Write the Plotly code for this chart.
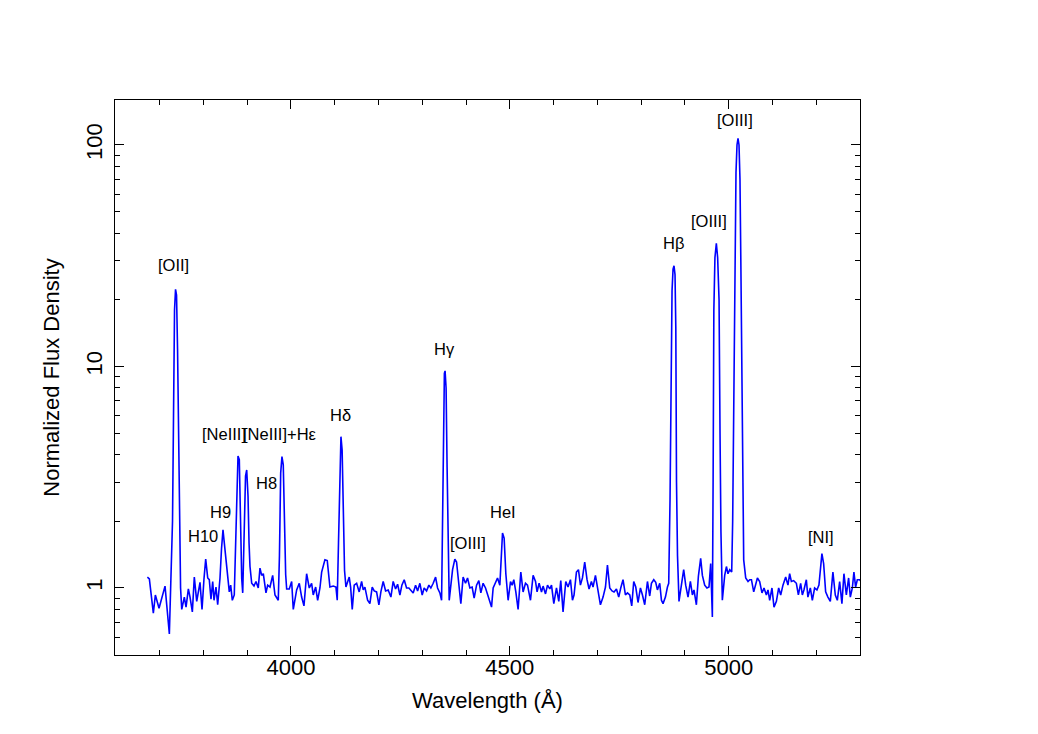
import plotly.graph_objects as go

# Spectrum (wavelength in Angstrom, normalized flux)
wavelength = [
    3672.0, 3676.5, 3685.6, 3690.2, 3698.6, 3712.3, 3722.2, 3726.0, 3729.4, 3731.7,
    3734.0, 3736.3, 3738.6, 3740.9, 3743.2, 3745.0, 3747.8, 3750.5, 3756.4, 3760.3,
    3765.6, 3769.4, 3774.7, 3779.2, 3784.7, 3792.2, 3796.8, 3801.3, 3805.2, 3809.8,
    3813.4, 3817.3, 3821.2, 3824.2, 3828.7, 3832.6, 3837.9, 3841.3, 3844.7, 3847.0,
    3850.0, 3854.5, 3859.1, 3862.3, 3866.0, 3870.5, 3873.3, 3876.0, 3879.0, 3882.0,
    3884.7, 3887.5, 3889.8, 3892.7, 3896.2, 3898.9, 3901.9, 3904.2, 3906.4, 3910.3,
    3915.5, 3920.1, 3925.3, 3929.2, 3933.1, 3936.8, 3942.9, 3946.8, 3952.1, 3958.2,
    3963.5, 3971.0, 3973.7, 3976.5, 3979.4, 3982.4, 3985.1, 3987.9, 3990.2, 3996.1,
    4001.6, 4005.3, 4013.0, 4019.0, 4024.4, 4029.7, 4035.8, 4041.8, 4047.2, 4050.9,
    4056.4, 4061.0, 4066.2, 4070.1, 4077.6, 4082.9, 4089.0, 4096.6, 4102.7, 4105.7,
    4108.6, 4111.4, 4114.2, 4116.9, 4119.6, 4122.4, 4125.6, 4129.5, 4133.1, 4136.3,
    4140.0, 4144.5, 4150.0, 4155.9, 4161.4, 4165.1, 4168.9, 4175.1, 4180.3, 4185.6,
    4190.2, 4195.6, 4200.9, 4205.4, 4210.7, 4216.2, 4222.1, 4228.3, 4233.5, 4239.0,
    4243.6, 4248.9, 4253.4, 4258.7, 4264.1, 4269.4, 4273.9, 4279.2, 4284.7, 4289.3,
    4294.5, 4299.8, 4304.3, 4309.8, 4315.1, 4319.6, 4324.9, 4330.4, 4334.9, 4340.2,
    4344.1, 4346.1, 4348.2, 4350.5, 4352.1, 4354.4, 4356.7, 4359.2, 4361.5, 4369.2,
    4374.4, 4378.3, 4383.5, 4388.1, 4393.3, 4398.8, 4403.4, 4408.7, 4413.9, 4418.5,
    4424.0, 4429.2, 4433.8, 4439.0, 4444.5, 4450.5, 4458.2, 4461.9, 4467.3, 4471.9,
    4477.2, 4480.6, 4483.3, 4487.0, 4490.9, 4496.1, 4501.6, 4505.3, 4509.1, 4513.7,
    4518.9, 4525.1, 4530.3, 4535.8, 4540.4, 4547.2, 4553.2, 4558.7, 4562.3, 4566.9,
    4572.4, 4576.0, 4581.5, 4586.1, 4591.3, 4595.2, 4600.5, 4606.6, 4611.9, 4616.4,
    4621.6, 4627.8, 4633.0, 4638.5, 4643.1, 4646.7, 4652.2, 4656.8, 4661.3, 4665.9,
    4671.1, 4676.4, 4681.0, 4686.4, 4690.1, 4695.6, 4700.2, 4707.0, 4713.0, 4718.5,
    4723.0, 4728.3, 4733.5, 4738.1, 4743.6, 4748.8, 4753.4, 4758.6, 4764.1, 4768.7,
    4774.0, 4778.5, 4783.1, 4787.7, 4792.9, 4798.4, 4803.0, 4808.2, 4814.4, 4819.6,
    4823.5, 4828.8, 4833.3, 4837.2, 4842.5, 4846.4, 4850.0, 4855.5, 4860.1, 4863.0,
    4866.0, 4868.3, 4870.6, 4872.9, 4875.1, 4877.4, 4879.2, 4880.8, 4883.1, 4886.5,
    4892.0, 4897.2, 4901.8, 4907.1, 4912.5, 4917.1, 4920.7, 4926.2, 4930.8, 4936.0,
    4939.9, 4945.2, 4950.4, 4955.0, 4958.9, 4962.7, 4964.4, 4966.1, 4968.6, 4971.8,
    4974.8, 4978.0, 4980.2, 4982.3, 4985.5, 4990.9, 4994.8, 4998.4, 5002.3, 5006.9,
    5009.1, 5011.4, 5014.2, 5016.7, 5019.0, 5021.3, 5023.6, 5025.8, 5027.9, 5030.0,
    5032.0, 5034.3, 5038.9, 5044.2, 5048.1, 5052.0, 5057.2, 5061.8, 5065.6, 5070.8,
    5076.1, 5080.7, 5086.1, 5089.8, 5093.7, 5098.9, 5103.5, 5109.0, 5114.2, 5118.8,
    5124.0, 5130.2, 5135.4, 5139.3, 5143.2, 5148.4, 5154.6, 5159.2, 5164.4, 5168.3,
    5171.9, 5177.4, 5181.0, 5186.5, 5191.1, 5196.3, 5201.6, 5206.2, 5209.6, 5213.0,
    5216.9, 5221.5, 5226.7, 5232.2, 5238.1, 5243.6, 5248.2, 5253.5, 5258.7, 5263.3,
    5268.8, 5274.0, 5277.9, 5282.5, 5286.1, 5290.0, 5293.9, 5299.1, 5305.0,
]

flux = [
    1.12, 1.10, 0.77, 0.93, 0.81, 1.02, 0.62, 1.10, 2.0, 6.0,
    18.0, 22.3, 21.0, 12.0, 4.0, 2.0, 1.0, 0.80, 0.91, 0.82,
    0.99, 0.91, 0.78, 1.12, 0.87, 1.06, 0.80, 1.10, 1.35, 1.11,
    1.09, 0.89, 1.07, 0.88, 1.01, 0.84, 1.11, 1.50, 1.83, 1.65,
    1.43, 1.12, 0.96, 1.03, 0.88, 0.93, 1.50, 3.0, 3.94, 3.8,
    2.0, 1.1, 0.95, 1.6, 3.2, 3.41, 2.6, 1.6, 1.25, 1.05,
    1.02, 1.07, 1.00, 1.23, 1.14, 1.16, 0.95, 1.03, 1.01, 1.14,
    0.93, 0.88, 1.4, 3.3, 3.92, 3.6, 2.0, 1.15, 0.99, 0.99,
    1.07, 0.80, 0.98, 1.05, 0.91, 0.83, 1.16, 1.00, 1.05, 0.93,
    1.01, 0.88, 1.00, 1.18, 1.34, 1.33, 1.01, 1.02, 1.01, 0.88,
    1.6, 3.5, 4.82, 4.2, 2.2, 1.2, 1.01, 1.07, 1.12, 1.01,
    0.80, 1.03, 1.05, 0.96, 1.07, 0.98, 1.01, 0.88, 0.85, 1.01,
    0.97, 0.96, 0.84, 0.96, 1.07, 0.97, 0.98, 0.91, 1.07, 0.99,
    1.04, 0.93, 1.03, 1.09, 1.00, 1.00, 0.98, 0.95, 1.03, 0.97,
    1.05, 0.93, 1.00, 0.97, 1.03, 1.00, 1.05, 1.12, 1.00, 0.95,
    0.88, 2.0, 6.5, 9.3, 9.55, 8.0, 3.5, 1.5, 0.88, 1.21,
    1.35, 1.31, 1.01, 0.85, 1.12, 1.05, 1.11, 1.00, 1.01, 0.90,
    1.03, 1.08, 0.95, 1.05, 1.00, 0.91, 0.82, 1.00, 1.07, 1.11,
    1.03, 1.40, 1.77, 1.68, 1.16, 0.88, 1.07, 1.03, 1.09, 0.96,
    0.80, 1.18, 0.96, 1.05, 1.03, 0.88, 1.14, 1.07, 0.96, 1.05,
    0.96, 1.02, 0.94, 1.03, 0.99, 1.03, 0.85, 1.00, 0.87, 1.08,
    0.78, 1.07, 1.01, 1.09, 0.88, 0.93, 1.18, 1.21, 1.03, 1.11,
    1.31, 1.09, 0.99, 1.07, 1.01, 1.14, 1.01, 0.84, 0.91, 1.01,
    1.27, 1.00, 0.97, 0.96, 0.99, 0.91, 1.00, 1.09, 0.93, 0.95,
    0.93, 0.83, 1.07, 1.01, 0.86, 1.00, 0.93, 0.84, 1.07, 0.92,
    1.05, 1.09, 1.06, 0.98, 1.05, 0.88, 0.85, 0.91, 1.01, 1.05,
    2.5, 9.0, 22.0, 27.5, 28.5, 26.0, 15.0, 3.0, 1.4, 0.87,
    1.01, 1.21, 1.03, 0.91, 1.07, 0.93, 0.98, 0.84, 1.13, 1.36,
    1.14, 1.03, 1.00, 1.01, 1.29, 0.74, 3.0, 18.0, 31.0, 36.0,
    31.0, 20.0, 5.0, 1.8, 0.88, 1.14, 1.25, 1.16, 1.21, 1.18,
    2.0, 8.0, 30.0, 75.0, 100.0, 107.0, 100.0, 70.0, 28.0, 8.0,
    2.5, 1.34, 1.11, 1.07, 1.09, 1.09, 0.96, 1.06, 1.11, 1.07,
    0.95, 1.00, 0.93, 0.98, 0.88, 1.00, 0.82, 0.87, 1.00, 0.93,
    1.03, 1.12, 1.03, 1.16, 1.07, 1.08, 1.05, 0.93, 1.05, 0.93,
    0.98, 1.09, 0.91, 1.00, 0.88, 1.00, 0.98, 1.03, 1.25, 1.43,
    1.29, 0.96, 0.91, 0.87, 1.18, 0.93, 0.88, 1.07, 0.85, 1.16,
    0.93, 1.11, 0.91, 1.00, 1.18, 1.01, 1.09, 1.09, 1.05,
]

# Line identifications: label text and where it sits (wavelength, log10 flux)
line_labels = ['[OII]', 'H10', 'H9', '[NeIII]', 'H8', '[NeIII]+H\u03b5', 'H\u03b4',
               'H\u03b3', '[OIII]', 'HeI', 'H\u03b2', '[OIII]', '[OIII]', '[NI]']
label_wave = [3730.6, 3798.0, 3840.0, 3846.0, 3944.5, 3976.0, 4113.7,
              4351.6, 4403.4, 4484.0, 4874.5, 4954.3, 5014.4, 5211.7]
label_logy = [1.458, 0.233, 0.345, 0.695, 0.476, 0.695, 0.781,
              1.079, 0.205, 0.345, 1.556, 1.659, 2.113, 0.232]

# Axis ticks
x_major = [4000, 4500, 5000]
x_minor_step = 100
y_major = [1, 10, 100]
y_minor = [0.6, 0.7, 0.8, 0.9, 2, 3, 4, 5, 6, 7, 8, 9,
           20, 30, 40, 50, 60, 70, 80, 90]

FONT = 'Liberation Sans, Arial, Helvetica, sans-serif'

fig = go.Figure()

fig.add_trace(go.Scatter(
    x=wavelength,
    y=flux,
    mode='lines',
    line=dict(color='#0000ff', width=1.6),
    showlegend=False,
))

# Label every emission line
for text, wx, ly in zip(line_labels, label_wave, label_logy):
    fig.add_annotation(
        x=wx, y=ly, xref='x', yref='y',
        text=text, showarrow=False,
        font=dict(family=FONT, size=16.5, color='black'),
        xanchor='center', yanchor='middle',
    )

axis_common = dict(
    showline=True, linecolor='black', linewidth=1,
    mirror='ticks', ticks='inside', ticklen=9, tickwidth=1, tickcolor='black',
    showgrid=False, zeroline=False,
    tickfont=dict(family=FONT, size=22, color='black'),
)

fig.update_xaxes(
    range=[3598, 5300],
    tickvals=x_major,
    ticklabelstandoff=-7,
    minor=dict(ticks='inside', ticklen=5, tickcolor='black', dtick=x_minor_step,
               tick0=3600, showgrid=False),
    title=dict(text='Wavelength (\u00c5)', font=dict(family=FONT, size=22, color='black'),
               standoff=13),
    **axis_common,
)

fig.update_yaxes(
    type='log',
    range=[-0.3025, 2.203],
    tickvals=y_major,
    ticktext=[str(v) for v in y_major],
    tickangle=-90,
    ticklabelstandoff=3,
    minor=dict(ticks='inside', ticklen=5, tickcolor='black', tickvals=y_minor,
               showgrid=False),
    title=dict(text='Normalized Flux Density', font=dict(family=FONT, size=22, color='black'),
               standoff=16),
    **axis_common,
)

# the page body adds an 8px offset, so the figure is sized to sit inside the window
fig.update_layout(
    width=1030,
    height=726,
    margin=dict(l=107, r=178, t=92, b=79),
    paper_bgcolor='white',
    plot_bgcolor='white',
    font=dict(family=FONT, color='black'),
)

fig.write_html('out.html')
